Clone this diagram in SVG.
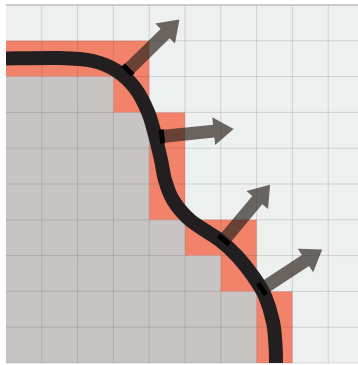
<svg xmlns="http://www.w3.org/2000/svg" xmlns:xlink="http://www.w3.org/1999/xlink" width="358" height="365" viewBox="0 0 358 365">
  <style>
    .bg { fill: #eef0f0; }
    .solid { fill: #c8c4c3; }
    .band { fill: #f3826a; }
    .grid { stroke: #505050; stroke-opacity: 0.2; stroke-width: 1; fill: none; }
    .border { stroke: #bdbdbd; stroke-width: 1.5; fill: none; }
    .curve { stroke: #231f20; stroke-width: 14; fill: none; stroke-linecap: butt; }
    .arrow { fill: #2a221c; fill-opacity: 0.68; }
    .tick { fill: #000000; }
  </style>
  <defs>
    <g id="normal">
      <path class="arrow" d="M0,-6.5 L52,-6.5 L52,-14 L72,0 L52,14 L52,6.5 L0,6.5 Z"/>
      <rect class="tick" x="-2.5" y="-7" width="5" height="14"/>
    </g>
  </defs>

  <rect width="358" height="365" fill="#ffffff"/>

  <g id="cells">
    <rect class="bg" x="6" y="5" width="358" height="358"/>
    <path class="solid" d="M6,76.6 H113.4 V112.4 H149.2 V219.8 H185 V255.6 H220.8 V291.4 H256.6 V363 H6 Z"/>
    <path class="band" d="M6,40.8 H149.2 V76.6 H6 Z M113.4,76.6 H149.2 V112.4 H113.4 Z M149.2,112.4 H185 V219.8 H149.2 Z M185,219.8 H256.6 V255.6 H185 Z M220.8,255.6 H256.6 V291.4 H220.8 Z M256.6,291.4 H292.4 V363 H256.6 Z"/>
  </g>

  <g id="grid">
    <path class="grid" d="M41.8,5 V363 M77.6,5 V363 M113.4,5 V363 M149.2,5 V363 M185,5 V363 M220.8,5 V363 M256.6,5 V363 M292.4,5 V363 M328.2,5 V363
      M6,40.8 H364 M6,76.6 H364 M6,112.4 H364 M6,148.2 H364 M6,184 H364 M6,219.8 H364 M6,255.6 H364 M6,291.4 H364 M6,327.2 H364 M6,363 H364"/>
    <path class="border" d="M6,5 H364"/>
  </g>

  <g id="connectors">
    <path id="boundary" class="curve" d="M6,58.5 C15,58.4 45.5,57.6 60,58 C74.5,58.4 83.5,58.8 93,61 C102.5,63.2 110,66.5 117,71 C124,75.5 129.8,81.2 135,88 C140.2,94.8 144.7,104.2 148,112 C151.3,119.8 152.8,127 155,135 C157.2,143 159.3,152.5 161,160 C162.7,167.5 163,173.3 165,180 C167,186.7 168.8,193.3 173,200 C177.2,206.7 182.3,213.3 190,220 C197.8,226.7 211.7,234 219.5,240 C227.3,246 231.4,250 237,256 C242.6,262 248.3,269.3 253,276 C257.7,282.7 261.7,288.3 265,296 C268.3,303.7 271.3,313.8 273,322 C274.8,330.2 275,338.2 275.5,345 C276,351.8 276,360 276,363"/>
    <use id="normal1" xlink:href="#normal" transform="translate(128,70) rotate(-44.4)"/>
    <use id="normal2" xlink:href="#normal" transform="translate(162,136.5) rotate(-5.9)"/>
    <use id="normal3" xlink:href="#normal" transform="translate(224,240) rotate(-50.2)"/>
    <use id="normal4" xlink:href="#normal" transform="translate(262,289) rotate(-33.3)"/>
  </g>
</svg>
